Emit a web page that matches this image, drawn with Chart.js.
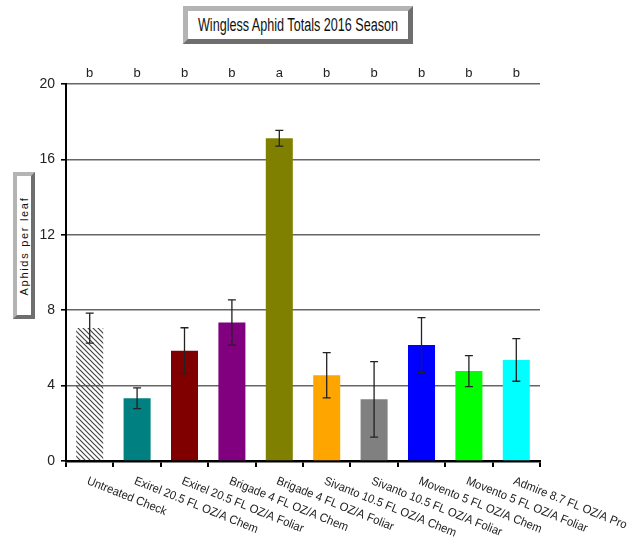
<!DOCTYPE html>
<html>
<head>
<meta charset="utf-8">
<script src="https://cdn.jsdelivr.net/npm/chart.js@4/dist/chart.umd.min.js"></script>
<style>
    body { margin: 0; background: #fff; }
    #wrap { position: relative; width: 631px; height: 544px; }
    #title {
        position: absolute; left: 183px; top: 6px; width: 220px; height: 28px;
        border: 5px solid; border-color: #b4b4b4 #6e6e6e #6e6e6e #b4b4b4;
        background: #fff;
    }
    #title span {
        position: absolute; left: 50%; top: 50%; white-space: nowrap;
        transform: translate(-50%, -50%) scaleX(0.7);
        font-family: "Liberation Sans", Arial, sans-serif; font-size: 18px; color: #111;
    }
    #ylabel {
        position: absolute; left: 13px; top: 172px; width: 14px; height: 139px;
        border: 4px solid; border-color: #b4b4b4 #6e6e6e #6e6e6e #b4b4b4;
        background: #fff;
    }
    #ylabel span {
        position: absolute; left: 50%; top: 50%; white-space: nowrap;
        transform: translate(-50%, -50%) rotate(-90deg);
        font-family: "Liberation Sans", Arial, sans-serif; font-size: 11px; letter-spacing: 1.7px; color: #111;
    }
</style>
</head>
<body>
<div id="wrap">
    <canvas id="chart" width="631" height="544"></canvas>
    <div id="title"><span>Wingless Aphid Totals 2016 Season</span></div>
    <div id="ylabel"><span>Aphids per leaf</span></div>
</div>
<script>
// Data
const treatments = ["Untreated Check", "Exirel 20.5 FL OZ/A Chem", "Exirel 20.5 FL OZ/A Foliar",
    "Brigade 4 FL OZ/A Chem", "Brigade 4 FL OZ/A Foliar", "Sivanto 10.5 FL OZ/A Chem",
    "Sivanto 10.5 FL OZ/A Foliar", "Movento 5 FL OZ/A Chem", "Movento 5 FL OZ/A Foliar",
    "Admire 8.7 FL OZ/A Pro"]
const aphids = [7.05, 3.33, 5.85, 7.35, 17.12, 4.55, 3.27, 6.15, 4.77, 5.36]
const errors = [0.8, 0.55, 1.22, 1.2, 0.42, 1.2, 2.0, 1.46, 0.82, 1.13]
const letters = ["b", "b", "b", "b", "a", "b", "b", "b", "b", "b"]
const yTicks = [0, 4, 8, 12, 16, 20]

// Hatch for the untreated check
function hatch() {
    const c = document.createElement("canvas")
    c.width = 5; c.height = 5
    const g = c.getContext("2d")
    g.strokeStyle = "#444"
    g.lineWidth = 1.2
    g.beginPath()
    g.moveTo(-1, -1); g.lineTo(6, 6)
    g.moveTo(-1, 4); g.lineTo(1, 6)
    g.moveTo(4, -1); g.lineTo(6, 1)
    g.stroke()
    return g.createPattern(c, "repeat")
}

const colors = [hatch(), "#008080", "#800000", "#800080", "#808000", "#FFA500",
    "#808080", "#0000FF", "#00FF00", "#00FFFF"]

const font = "'Liberation Sans', Arial, sans-serif"

// Error bars drawn through the y scale
const errorBars = {
    id: "errorBars",
    afterDatasetsDraw(chart) {
        const ctx = chart.ctx
        const y = chart.scales.y
        const meta = chart.getDatasetMeta(0)
        ctx.save()
        ctx.strokeStyle = "#222"
        ctx.lineWidth = 1.3
        meta.data.forEach((bar, i) => {
            const top = y.getPixelForValue(aphids[i] + errors[i])
            const bot = y.getPixelForValue(aphids[i] - errors[i])
            ctx.beginPath()
            ctx.moveTo(bar.x, top); ctx.lineTo(bar.x, bot)
            ctx.moveTo(bar.x - 4, top); ctx.lineTo(bar.x + 4, top)
            ctx.moveTo(bar.x - 4, bot); ctx.lineTo(bar.x + 4, bot)
            ctx.stroke()
        })
        ctx.restore()
    }
}

// Slanted category labels (start at the tick, run down to the right)
const slantLabels = {
    id: "slantLabels",
    afterDraw(chart) {
        const ctx = chart.ctx
        const x = chart.scales.x
        ctx.save()
        ctx.font = "12px " + font
        ctx.fillStyle = "#222"
        ctx.textAlign = "left"
        ctx.textBaseline = "top"
        treatments.forEach((t, i) => {
            ctx.save()
            ctx.translate(x.getPixelForValue(i), chart.chartArea.bottom + 14)
            ctx.rotate(22 * Math.PI / 180)
            ctx.scale(0.94, 1)
            ctx.fillText(t, 0, 0)
            ctx.restore()
        })
        ctx.restore()
    }
}

new Chart(document.getElementById("chart"), {
    type: "bar",
    data: {
        labels: treatments,
        datasets: [{
            data: aphids,
            backgroundColor: colors,
            borderWidth: 0,
            barPercentage: 0.57,
            categoryPercentage: 1
        }]
    },
    plugins: [errorBars, slantLabels],
    options: {
        responsive: false,
        animation: false,
        devicePixelRatio: 1,
        layout: { padding: { left: 0, right: 91, top: 0, bottom: 0 } },
        plugins: { legend: { display: false }, tooltip: { enabled: false } },
        scales: {
            x: {
                afterFit: (s) => { s.height = 83 },
                ticks: { display: false },
                grid: { drawOnChartArea: false, tickLength: 6, tickColor: "#000", lineWidth: 2 },
                border: { color: "#000", width: 2.5 }
            },
            x2: {
                type: "category",
                position: "top",
                labels: letters,
                offset: true,
                afterFit: (s) => { s.height = 84 },
                grid: { display: false, drawTicks: false },
                border: { display: false },
                ticks: { color: "#222", padding: 3, font: { family: font, size: 13 } }
            },
            y: {
                min: 0, max: 20,
                afterFit: (s) => { s.width = 66 },
                afterBuildTicks: (s) => { s.ticks = yTicks.map(v => ({ value: v })) },
                grid: { color: "#666", lineWidth: 1.6, tickLength: 5, tickColor: "#000" },
                border: { color: "#000", width: 2 },
                ticks: { color: "#222", padding: 6, font: { family: font, size: 14 } }
            }
        }
    }
});
</script>
</body>
</html>
